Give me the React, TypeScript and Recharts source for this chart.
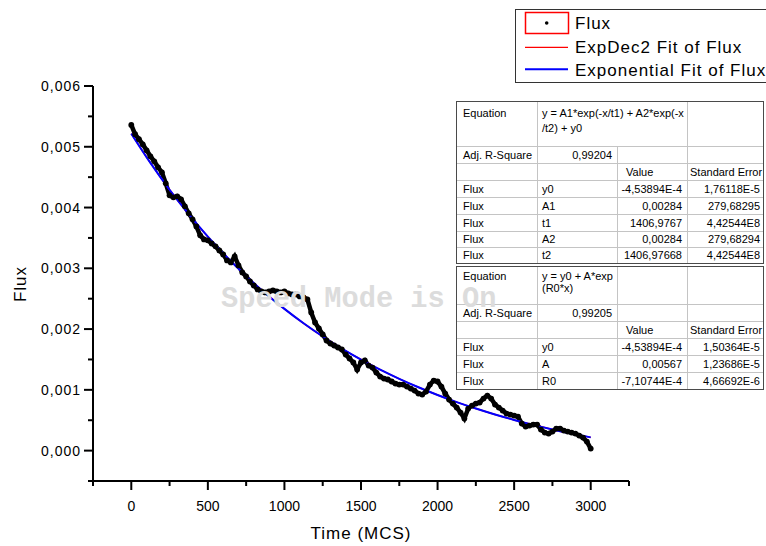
import React from 'react';
import { ComposedChart, Line, XAxis, YAxis } from 'recharts';

const FONT = '"Liberation Sans", Arial, sans-serif';

// Flux samples (time in MCS)
const fluxTime = [
  0, 25, 50, 75, 100, 125, 150, 175, 200, 225,
  250, 275, 300, 325, 350, 375, 400, 425, 450, 475,
  500, 525, 550, 575, 600, 625, 650, 675, 700, 725,
  750, 775, 800, 825, 850, 875, 900, 925, 950, 975,
  1000, 1025, 1050, 1075, 1100, 1125, 1150, 1175, 1200, 1225,
  1250, 1275, 1300, 1325, 1350, 1375, 1400, 1425, 1450, 1475,
  1500, 1525, 1550, 1575, 1600, 1625, 1650, 1675, 1700, 1725,
  1750, 1775, 1800, 1825, 1850, 1875, 1900, 1925, 1950, 1975,
  2000, 2025, 2050, 2075, 2100, 2125, 2150, 2175, 2200, 2225,
  2250, 2275, 2300, 2325, 2350, 2375, 2400, 2425, 2450, 2475,
  2500, 2525, 2550, 2575, 2600, 2625, 2650, 2675, 2700, 2725,
  2750, 2775, 2800, 2825, 2850, 2875, 2900, 2925, 2950, 2975,
  3000,
];

const fluxValues = [
  0.005360, 0.005206, 0.005124, 0.005041, 0.004942, 0.004843, 0.004761, 0.004662, 0.004580, 0.004399,
  0.004201, 0.004168, 0.004185, 0.004135, 0.004020, 0.003904, 0.003806, 0.003690, 0.003542, 0.003476,
  0.003460, 0.003410, 0.003361, 0.003295, 0.003229, 0.003130, 0.003097, 0.003196, 0.003048, 0.002932,
  0.002867, 0.002784, 0.002718, 0.002652, 0.002619, 0.002603, 0.002619, 0.002636, 0.002619, 0.002603,
  0.002619, 0.002587, 0.002570, 0.002570, 0.002537, 0.002521, 0.002488, 0.002273, 0.002109, 0.002010,
  0.001911, 0.001812, 0.001763, 0.001730, 0.001697, 0.001664, 0.001582, 0.001516, 0.001450, 0.001334,
  0.001450, 0.001483, 0.001400, 0.001367, 0.001285, 0.001219, 0.001186, 0.001170, 0.001137, 0.001104,
  0.001087, 0.001087, 0.001054, 0.001021, 0.000988, 0.000939, 0.000923, 0.000972, 0.001087, 0.001153,
  0.001137, 0.001054, 0.000939, 0.000840, 0.000774, 0.000708, 0.000626, 0.000527, 0.000692, 0.000741,
  0.000774, 0.000791, 0.000857, 0.000906, 0.000857, 0.000758, 0.000708, 0.000659, 0.000610, 0.000593,
  0.000577, 0.000560, 0.000445, 0.000395, 0.000412, 0.000428, 0.000428, 0.000346, 0.000297, 0.000280,
  0.000313, 0.000362, 0.000362, 0.000329, 0.000313, 0.000297, 0.000280, 0.000247, 0.000214, 0.000148,
  0.000033,
];

// fitted curves (both fits land on the same curve)
const fitTime = [
  0, 125, 250, 375, 500, 625, 750, 875, 1000, 1125, 1250, 1375, 1500,
  1625, 1750, 1875, 2000, 2125, 2250, 2375, 2500, 2625, 2750, 2875, 3000,
];
const expDec2Fit = [
  0.005216, 0.004734, 0.004293, 0.003890, 0.003520, 0.003182, 0.002873, 0.002590, 0.002332,
  0.002095, 0.001878, 0.001680, 0.001499, 0.001332, 0.001181, 0.001042, 0.000915, 0.000798,
  0.000692, 0.000594, 0.000505, 0.000424, 0.000349, 0.000281, 0.000218,
];
const exponentialFit = [
  0.005216, 0.004734, 0.004293, 0.003890, 0.003520, 0.003182, 0.002873, 0.002590, 0.002332,
  0.002095, 0.001878, 0.001680, 0.001499, 0.001332, 0.001181, 0.001042, 0.000915, 0.000798,
  0.000692, 0.000594, 0.000505, 0.000424, 0.000349, 0.000281, 0.000218,
];

const xTicks = [-250, 0, 250, 500, 750, 1000, 1250, 1500, 1750, 2000, 2250, 2500, 2750, 3000, 3250];
const yTicks = [
  -0.0005, 0, 0.0005, 0.001, 0.0015, 0.002, 0.0025, 0.003, 0.0035, 0.004, 0.0045, 0.005, 0.0055, 0.006,
];

const chartRows = fluxTime.map((t, i) => {
  const k = fitTime.indexOf(t);
  return {
    t,
    flux: fluxValues[i],
    expDec2: k >= 0 ? expDec2Fit[k] : null,
    exponential: k >= 0 ? exponentialFit[k] : null,
  };
});

function XTick(props: any) {
  const { x, y, payload } = props;
  const v = payload.value;
  const major = v % 500 === 0 && v >= 0 && v <= 3000;
  return (
    <g>
      <line x1={x} x2={x} y1={y} y2={y + (major ? 9 : 5)} stroke="#000" strokeWidth={2} />
      {major && (
        <text x={x} y={y + 25} textAnchor="middle" dominantBaseline="central"
          fontFamily={FONT} fontSize={14} fill="#000">{v}</text>
      )}
    </g>
  );
}

function YTick(props: any) {
  const { x, y, payload } = props;
  const v = payload.value;
  const major = Math.abs(v * 1000 - Math.round(v * 1000)) < 1e-6;
  return (
    <g>
      <line x1={x - (major ? 9 : 5)} x2={x} y1={y} y2={y} stroke="#000" strokeWidth={2} />
      {major && (
        <text x={x - 12} y={y} textAnchor="end" dominantBaseline="central"
          fontFamily={FONT} fontSize={14} letterSpacing={1} fill="#000">
          {v.toFixed(3).replace('.', ',')}
        </text>
      )}
    </g>
  );
}

type Cell = { text: string | string[]; align?: 'l' | 'r'; span?: number };
const L = (text: string | string[], span = 1): Cell => ({ text, align: 'l', span });
const R = (text: string): Cell => ({ text, align: 'r' });

const table1 = [
  [L('Equation'), L(['y = A1*exp(-x/t1) + A2*exp(-x', '/t2) + y0'], 2), L('')],
  [L('Adj. R-Square'), R('0,99204'), L(''), L('')],
  [L(''), L(''), L('Value'), L('Standard Error')],
  [L('Flux'), L('y0'), R('-4,53894E-4'), R('1,76118E-5')],
  [L('Flux'), L('A1'), R('0,00284'), R('279,68295')],
  [L('Flux'), L('t1'), R('1406,9767'), R('4,42544E8')],
  [L('Flux'), L('A2'), R('0,00284'), R('279,68294')],
  [L('Flux'), L('t2'), R('1406,97668'), R('4,42544E8')],
];

const table2 = [
  [L('Equation'), L(['y = y0 + A*exp', '(R0*x)']), L(''), L('')],
  [L('Adj. R-Square'), R('0,99205'), L(''), L('')],
  [L(''), L(''), L('Value'), L('Standard Error')],
  [L('Flux'), L('y0'), R('-4,53894E-4'), R('1,50364E-5')],
  [L('Flux'), L('A'), R('0,00567'), R('1,23686E-5')],
  [L('Flux'), L('R0'), R('-7,10744E-4'), R('4,66692E-6')],
];

const colWidths = [80, 80, 70, 76];
const padLeft = [6, 4, 8, 2];
const padRight = [5, 5, 5, 3];

function FitTable({ left, top, rows, rowHeights, lineHeight, padTop }: any) {
  const totalW = colWidths.reduce((a, b) => a + b, 0);
  const totalH = rowHeights.reduce((a: number, b: number) => a + b, 0);
  const cells: any[] = [];
  let y = 0;
  rows.forEach((row: Cell[], ri: number) => {
    let x = 0;
    let ci = 0;
    row.forEach((cell, k) => {
      if (ci >= colWidths.length) return;
      const span = cell.span || 1;
      let w = 0;
      for (let s = 0; s < span; s++) w += colWidths[ci + s];
      const lines = Array.isArray(cell.text) ? cell.text : [cell.text];
      const head = ri === 0;
      cells.push(
        <div key={ri + '-' + k} style={{
          position: 'absolute', left: x, top: y, width: w, height: rowHeights[ri],
          boxSizing: 'border-box',
          borderLeft: ci > 0 ? '1px solid #c4c4c4' : 'none',
          borderTop: ri > 0 ? '1px solid #c4c4c4' : 'none',
          display: 'flex', flexDirection: 'column',
          justifyContent: head ? 'flex-start' : 'center',
          alignItems: cell.align === 'r' ? 'flex-end' : 'flex-start',
          paddingLeft: padLeft[ci], paddingRight: padRight[ci + span - 1],
          paddingTop: head ? padTop : 0,
          whiteSpace: 'nowrap',
        }}>
          {lines.map((line, li) => (
            <div key={li} style={{ lineHeight: lineHeight + 'px', height: lineHeight }}>{line}</div>
          ))}
        </div>
      );
      x += w;
      ci += span;
    });
    y += rowHeights[ri];
  });
  return (
    <div style={{
      position: 'absolute', left, top, width: totalW, height: totalH, background: '#fff',
      fontFamily: FONT, fontSize: 11, color: '#000',
    }}>
      {cells}
      <div style={{
        position: 'absolute', left: -1, top: -1, width: totalW + 2, height: totalH + 2,
        boxSizing: 'border-box', border: '1px solid #4a4a4a',
      }} />
    </div>
  );
}

export default function App() {
  return (
    <div style={{ position: 'absolute', left: 0, top: 0, width: 766, height: 546, background: '#fff', overflow: 'hidden' }}>
      <ComposedChart width={766} height={546} data={chartRows}
        margin={{ top: 86, right: 137, bottom: 25, left: 0 }}>
        <XAxis dataKey="t" type="number" domain={[-250, 3250]} ticks={xTicks} interval={0}
          height={40} tickSize={0} tickMargin={0} tickLine={false}
          axisLine={{ stroke: '#000', strokeWidth: 2 }} tick={(p: any) => <XTick {...p} />} />
        <YAxis type="number" domain={[-0.0005, 0.006]} ticks={yTicks} interval={0}
          width={93} tickSize={0} tickMargin={0} tickLine={false}
          axisLine={{ stroke: '#000', strokeWidth: 2 }} tick={(p: any) => <YTick {...p} />} />
        <Line dataKey="flux" type="linear" stroke="#000" strokeWidth={4.5}
          dot={{ r: 2.9, fill: '#000', stroke: '#000', strokeWidth: 0 }} activeDot={false}
          isAnimationActive={false} />
        <Line dataKey="expDec2" type="monotone" stroke="#ff0000" strokeWidth={1.5} dot={false}
          connectNulls activeDot={false} isAnimationActive={false} />
        <Line dataKey="exponential" type="monotone" stroke="#0000ff" strokeWidth={2} dot={false}
          connectNulls activeDot={false} isAnimationActive={false} />
      </ComposedChart>

      <FitTable left={457} top={102} rows={table1}
        rowHeights={[44, 17, 17, 17, 17, 17, 16, 16]} lineHeight={15} padTop={4} />
      <FitTable left={457} top={267} rows={table2}
        rowHeights={[37, 17, 17, 17, 17, 17]} lineHeight={12} padTop={3} />

      <svg width={766} height={546} style={{ position: 'absolute', left: 0, top: 0, pointerEvents: 'none' }}>
        <text x={361} y={533} textAnchor="middle" dominantBaseline="central" fontFamily={FONT}
          fontSize={17} letterSpacing={1} fill="#000">Time (MCS)</text>
        <text transform="translate(20,284) rotate(-90)" textAnchor="middle" dominantBaseline="central"
          fontFamily={FONT} fontSize={17} letterSpacing={1} fill="#000">Flux</text>

        <rect x={515.5} y={9.5} width={260} height={73} fill="#fff" stroke="#333" />
        <rect x={525.5} y={12.5} width={43} height={21} fill="none" stroke="#ff0000" strokeWidth={1.5} />
        <circle cx={546.7} cy={23} r={1.8} fill="#000" />
        <text x={575} y={23} dominantBaseline="central" fontFamily={FONT} fontSize={17} letterSpacing={1} fill="#000">Flux</text>
        <line x1={525} x2={568} y1={47.3} y2={47.3} stroke="#ff0000" strokeWidth={1.2} />
        <text x={575} y={47} dominantBaseline="central" fontFamily={FONT} fontSize={17} letterSpacing={1} fill="#000">ExpDec2 Fit of Flux</text>
        <line x1={525} x2={568} y1={69.3} y2={69.3} stroke="#0000ff" strokeWidth={2} />
        <text x={575} y={70} dominantBaseline="central" fontFamily={FONT} fontSize={17} letterSpacing={1} fill="#000">Exponential Fit of Flux</text>

        <text x={221} y={307} fontFamily='"Liberation Mono", monospace' fontSize={28.7} fontWeight="bold" fill="#dcdcdc">Speed Mode is On</text>
      </svg>
    </div>
  );
}
